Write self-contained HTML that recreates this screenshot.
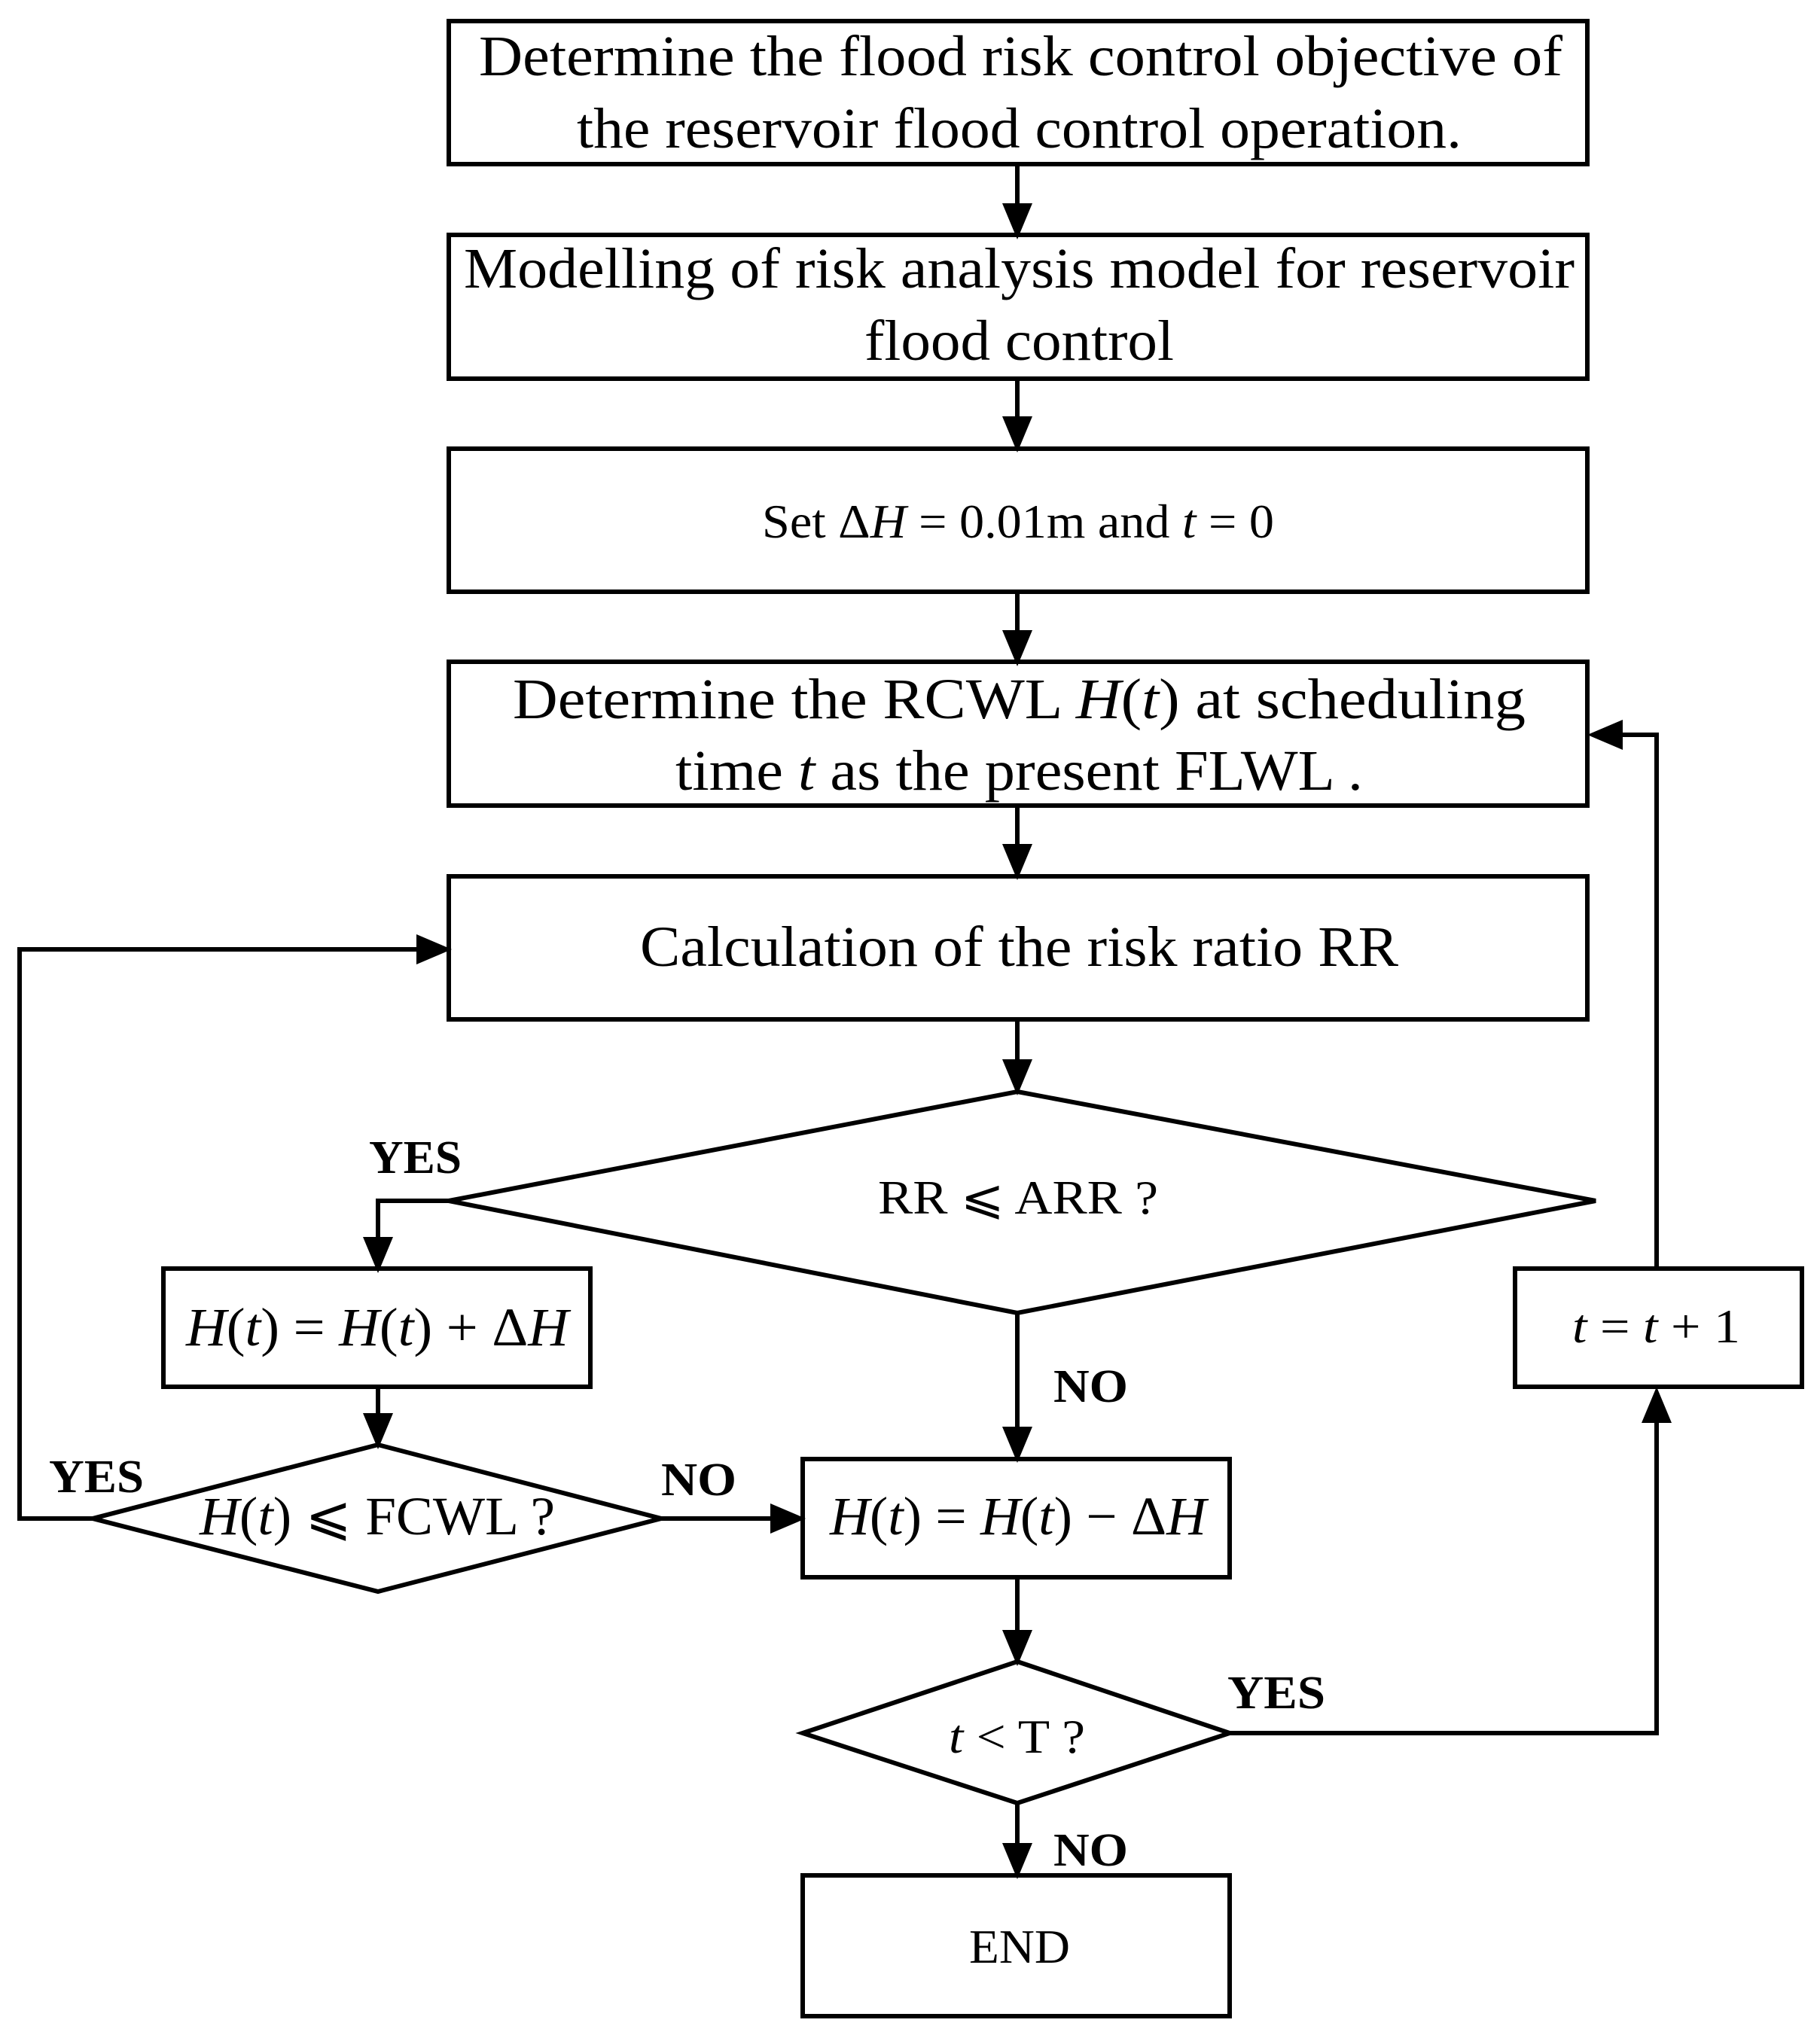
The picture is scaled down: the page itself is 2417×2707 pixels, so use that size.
<!DOCTYPE html>
<html><head><meta charset="utf-8"><style>html,body{margin:0;padding:0;background:#fff}svg{display:block}</style></head>
<body>
<svg width="2417" height="2707" viewBox="0 0 2417 2707" xmlns="http://www.w3.org/2000/svg" font-family="Liberation Serif, serif">
<g fill="none" stroke="#000" stroke-width="6">
<rect x="596" y="28" width="1512" height="190"/>
<rect x="596" y="312" width="1512" height="191"/>
<rect x="596" y="596" width="1512" height="190"/>
<rect x="596" y="879" width="1512" height="191"/>
<rect x="596" y="1164" width="1512" height="190"/>
<polygon points="1351,1450 2119,1595 1351,1744 596,1595"/>
<rect x="217" y="1685" width="567" height="157"/>
<polygon points="502,1919 878,2017 502,2114 123,2017"/>
<rect x="1066" y="1938" width="567" height="157"/>
<polygon points="1351,2207 1633,2302 1351,2395 1066,2302"/>
<rect x="2012" y="1685" width="381" height="157"/>
<rect x="1066" y="2491" width="567" height="187"/>
<line x1="1351" y1="218" x2="1351" y2="270"/>
<line x1="1351" y1="503" x2="1351" y2="553"/>
<line x1="1351" y1="786" x2="1351" y2="837"/>
<line x1="1351" y1="1070" x2="1351" y2="1121"/>
<line x1="1351" y1="1354" x2="1351" y2="1407"/>
<line x1="1351" y1="1744" x2="1351" y2="1895"/>
<line x1="1351" y1="2095" x2="1351" y2="2165"/>
<line x1="1351" y1="2395" x2="1351" y2="2448"/>
<polyline points="596,1595 502,1595 502,1643"/>
<line x1="502" y1="1842" x2="502" y2="1877"/>
<polyline points="123,2017 26,2017 26,1261 553,1261"/>
<line x1="878" y1="2017" x2="1023" y2="2017"/>
<polyline points="1633,2302 2200,2302 2200,1885"/>
<polyline points="2200,1685 2200,976 2150,976"/>
</g>
<g fill="#000">
<polygon points="1331,270 1371,270 1351,318"/>
<polygon points="1331,553 1371,553 1351,601"/>
<polygon points="1331,837 1371,837 1351,885"/>
<polygon points="1331,1121 1371,1121 1351,1169"/>
<polygon points="1331,1407 1371,1407 1351,1455"/>
<polygon points="1331,1895 1371,1895 1351,1943"/>
<polygon points="1331,2165 1371,2165 1351,2213"/>
<polygon points="1331,2448 1371,2448 1351,2496"/>
<polygon points="482,1643 522,1643 502,1691"/>
<polygon points="482,1877 522,1877 502,1925"/>
<polygon points="553,1241 553,1281 600,1261"/>
<polygon points="1023,1997 1023,2037 1070,2017"/>
<polygon points="2180,1890 2220,1890 2200,1842"/>
<polygon points="2155,956 2155,996 2108,976"/>
</g>
<g font-size="76" fill="#000">
<text x="636" y="100" textLength="1439" lengthAdjust="spacingAndGlyphs">Determine the flood risk control objective of</text>
<text x="766" y="196" textLength="1175" lengthAdjust="spacingAndGlyphs">the reservoir flood control operation.</text>
<text x="616" y="382" textLength="1475" lengthAdjust="spacingAndGlyphs">Modelling of risk analysis model for reservoir</text>
<text x="1148" y="478" textLength="411" lengthAdjust="spacingAndGlyphs">flood control</text>
<text x="681" y="954" textLength="1345" lengthAdjust="spacingAndGlyphs">Determine the  RCWL <tspan font-style="italic">H</tspan>(<tspan font-style="italic">t</tspan>)  at scheduling</text>
<text x="897" y="1049" textLength="913" lengthAdjust="spacingAndGlyphs">time <tspan font-style="italic">t</tspan> as the present FLWL .</text>
<text x="850" y="1283" textLength="1007" lengthAdjust="spacingAndGlyphs">Calculation of the risk ratio RR</text>
</g>
<g font-size="64" fill="#000">
<text x="1012" y="714" textLength="680" lengthAdjust="spacingAndGlyphs">Set Δ<tspan font-style="italic">H</tspan> = 0.01m and <tspan font-style="italic">t</tspan> = 0</text>
<text x="1166" y="1612" textLength="372" lengthAdjust="spacingAndGlyphs">RR ⩽ ARR ?</text>
<text x="247" y="1787" font-size="72" textLength="508" lengthAdjust="spacingAndGlyphs"><tspan font-style="italic">H</tspan>(<tspan font-style="italic">t</tspan>) = <tspan font-style="italic">H</tspan>(<tspan font-style="italic">t</tspan>) + Δ<tspan font-style="italic">H</tspan></text>
<text x="265" y="2038" font-size="72" textLength="472" lengthAdjust="spacingAndGlyphs"><tspan font-style="italic">H</tspan>(<tspan font-style="italic">t</tspan>) ⩽ FCWL ?</text>
<text x="1102" y="2038" font-size="72" textLength="500" lengthAdjust="spacingAndGlyphs"><tspan font-style="italic">H</tspan>(<tspan font-style="italic">t</tspan>) = <tspan font-style="italic">H</tspan>(<tspan font-style="italic">t</tspan>) − Δ<tspan font-style="italic">H</tspan></text>
<text x="2088" y="1783" textLength="223" lengthAdjust="spacingAndGlyphs"><tspan font-style="italic">t</tspan>  = <tspan font-style="italic">t</tspan> + 1</text>
<text x="1260" y="2328" textLength="181" lengthAdjust="spacingAndGlyphs"><tspan font-style="italic">t</tspan> &lt; T ?</text>
<text x="1287" y="2607" textLength="134" lengthAdjust="spacingAndGlyphs">END</text>
</g>
<g font-size="62" font-weight="bold" fill="#000">
<text x="490" y="1558" textLength="123" lengthAdjust="spacingAndGlyphs">YES</text>
<text x="65" y="1982" textLength="126" lengthAdjust="spacingAndGlyphs">YES</text>
<text x="878" y="1986" textLength="100" lengthAdjust="spacingAndGlyphs">NO</text>
<text x="1399" y="1862" textLength="99" lengthAdjust="spacingAndGlyphs">NO</text>
<text x="1630" y="2269" textLength="130" lengthAdjust="spacingAndGlyphs">YES</text>
<text x="1399" y="2478" textLength="99" lengthAdjust="spacingAndGlyphs">NO</text>
</g>
</svg>
</body></html>
